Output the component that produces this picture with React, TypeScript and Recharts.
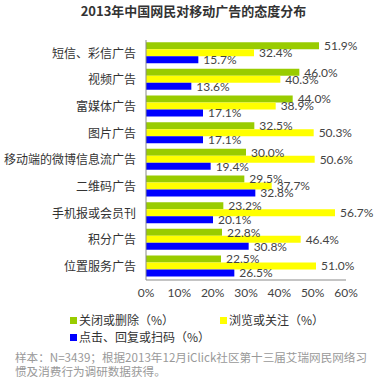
import { BarChart, Bar, XAxis, YAxis, LabelList } from "recharts";

// 2013年中国网民对移动广告的态度分布
const categories = [
  "短信、彩信广告",
  "视频广告",
  "富媒体广告",
  "图片广告",
  "移动端的微博信息流广告",
  "二维码广告",
  "手机报或会员刊",
  "积分广告",
  "位置服务广告",
];
const closeOrDelete = [51.9, 46.0, 44.0, 32.5, 30.0, 29.5, 23.2, 22.8, 22.5];
const browseOrFollow = [32.4, 40.3, 38.9, 50.3, 50.6, 37.7, 56.7, 46.4, 51.0];
const clickOrReply = [15.7, 13.6, 17.1, 17.1, 19.4, 32.8, 20.1, 30.8, 26.5];
const xTicks = [0, 10, 20, 30, 40, 50, 60];

const seriesNames = ["关闭或删除（%）", "浏览或关注（%）", "点击、回复或扫码（%）"];
const colors = ["#99CC00", "#FFFF00", "#0000FF"];

const data = categories.map((name, i) => ({
  name,
  a: closeOrDelete[i],
  b: browseOrFollow[i],
  c: clickOrReply[i],
}));

const FONT = "Lato, 'Noto Sans CJK SC', sans-serif";
const fmt = (v: any) => `${Number(v).toFixed(1)}%`;

export default function App() {
  const legendPos = [
    { left: 70, top: 313 },
    { left: 220, top: 313 },
    { left: 70, top: 330 },
  ];
  return (
    <div
      style={{
        position: "absolute",
        left: 0,
        top: 0,
        width: 387,
        height: 383,
        background: "#fff",
        fontFamily: FONT,
        overflow: "hidden",
      }}
    >
      <div
        style={{
          position: "absolute",
          top: 1,
          left: 0,
          width: 387,
          textAlign: "center",
          fontSize: 13,
          fontWeight: "bold",
          color: "#333",
          fontFamily: "'Noto Sans CJK SC', sans-serif",
        }}
      >
        2013年中国网民对移动广告的态度分布
      </div>
      <div style={{ position: "absolute", left: 0, top: 0 }}>
        <BarChart
          width={387}
          height={300}
          data={data}
          layout="vertical"
          margin={{ top: 40, right: 41, left: 0, bottom: 0 }}
          barCategoryGap="8%"
          barGap={0}
        >
          <XAxis
            type="number"
            domain={[0, 60]}
            ticks={xTicks}
            tickFormatter={(v) => `${v}%`}
            height={20}
            tickLine={false}
            axisLine={{ stroke: "#8a8a8a" }}
            tick={{ fontSize: 12, fill: "#444", fontFamily: FONT }}
            interval={0}
          />
          <YAxis
            type="category"
            dataKey="name"
            width={146}
            tickLine={false}
            tickMargin={4}
            axisLine={{ stroke: "#8a8a8a" }}
            tick={{ fontSize: 12, fill: "#333", fontFamily: "'Noto Sans CJK SC', sans-serif" }}
            interval={0}
          />
          {["a", "b", "c"].map((k, i) => (
            <Bar key={k} dataKey={k} fill={colors[i]} isAnimationActive={false}>
              <LabelList
                dataKey={k}
                position="right"
                offset={5}
                formatter={fmt}
                style={{ fontSize: 12, fill: "#444", fontFamily: FONT }}
              />
            </Bar>
          ))}
        </BarChart>
      </div>
      {seriesNames.map((n, i) => (
        <div
          key={n}
          style={{
            position: "absolute",
            left: legendPos[i].left,
            top: legendPos[i].top,
            display: "flex",
            alignItems: "center",
            fontSize: 12,
            color: "#333",
            lineHeight: "14px",
            fontFamily: "'Noto Sans CJK SC', sans-serif",
          }}
        >
          <span
            style={{
              display: "inline-block",
              width: 7,
              height: 7,
              background: colors[i],
              marginRight: 2,
            }}
          />
          {n}
        </div>
      ))}
      <div
        style={{
          position: "absolute",
          left: 15,
          top: 350,
          fontSize: 11.6,
          color: "#999",
          lineHeight: "14px",
          whiteSpace: "nowrap",
          fontFamily: "'Noto Sans CJK SC', sans-serif",
        }}
      >
        样本：N=3439；根据2013年12月iClick社区第十三届艾瑞网民网络习
        <br />
        惯及消费行为调研数据获得。
      </div>
    </div>
  );
}
